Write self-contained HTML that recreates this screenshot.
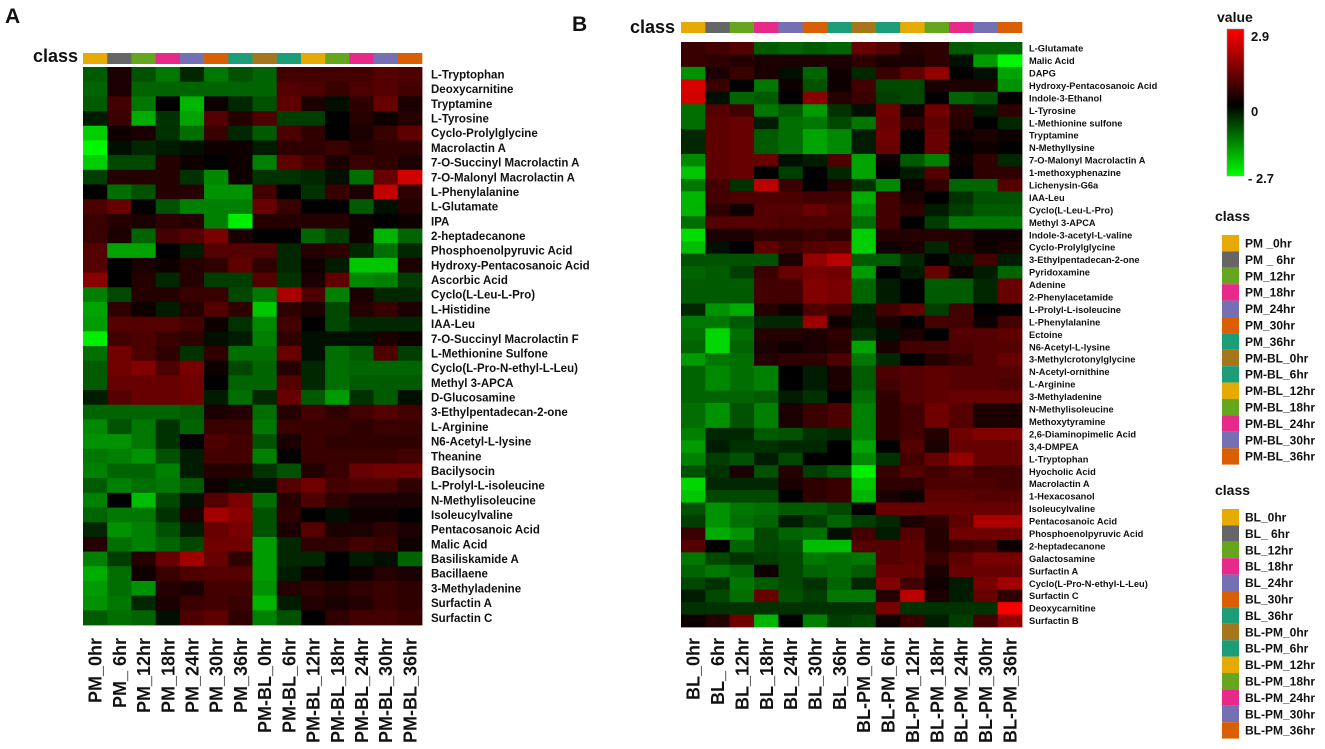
<!DOCTYPE html>
<html><head><meta charset="utf-8"><style>
html,body{margin:0;padding:0;background:#fff;width:1325px;height:749px;overflow:hidden}
svg text{font-family:"Liberation Sans",Arial,sans-serif;font-weight:bold;fill:#111}
</style></head><body>
<svg id="fig" width="1325" height="749" viewBox="0 0 1325 749" xmlns="http://www.w3.org/2000/svg">
<defs><linearGradient id="cb" x1="0" y1="0" x2="0" y2="1">
<stop offset="0" stop-color="#ff0000"/><stop offset="0.518" stop-color="#000000"/><stop offset="1" stop-color="#00ff00"/></linearGradient></defs>
<text x="5" y="23" font-size="21">A</text>
<text x="33" y="62" font-size="18">class</text>
<text x="572" y="31" font-size="21">B</text>
<text x="630" y="33" font-size="18">class</text>
<g id="ga"></g><g id="gb"></g><g id="gl"></g>
</svg>
<script>
const classColors=["#E6AB02","#666666","#66A61E","#E7298A","#7570B3","#D95F02","#1B9E77","#A6761D","#1B9E77","#E6AB02","#66A61E","#E7298A","#7570B3","#D95F02"];
const colsA=["PM_0hr","PM_ 6hr","PM_12hr","PM_18hr","PM_24hr","PM_30hr","PM_36hr","PM-BL_0hr","PM-BL_6hr","PM-BL_12hr","PM-BL_18hr","PM-BL_24hr","PM-BL_30hr","PM-BL_36hr"];
const colsB=["BL_0hr","BL_ 6hr","BL_12hr","BL_18hr","BL_24hr","BL_30hr","BL_36hr","BL-PM_0hr","BL-PM_6hr","BL-PM_12hr","BL-PM_18hr","BL-PM_24hr","BL-PM_30hr","BL-PM_36hr"];
const legendA=["PM _0hr","PM _ 6hr","PM_12hr","PM_18hr","PM_24hr","PM_30hr","PM_36hr","PM-BL_0hr","PM-BL_6hr","PM-BL_12hr","PM-BL_18hr","PM-BL_24hr","PM-BL_30hr","PM-BL_36hr"];
const legendB=["BL_0hr","BL_ 6hr","BL_12hr","BL_18hr","BL_24hr","BL_30hr","BL_36hr","BL-PM_0hr","BL-PM_6hr","BL-PM_12hr","BL-PM_18hr","BL-PM_24hr","BL-PM_30hr","BL-PM_36hr"];
const rowsA=["L-Tryptophan","Deoxycarnitine","Tryptamine","L-Tyrosine","Cyclo-Prolylglycine","Macrolactin A","7-O-Succinyl Macrolactin A","7-O-Malonyl Macrolactin A","L-Phenylalanine","L-Glutamate","IPA","2-heptadecanone","Phosphoenolpyruvic Acid","Hydroxy-Pentacosanoic Acid","Ascorbic Acid","Cyclo(L-Leu-L-Pro)","L-Histidine","IAA-Leu","7-O-Succinyl Macrolactin F","L-Methionine Sulfone","Cyclo(L-Pro-N-ethyl-L-Leu)","Methyl 3-APCA","D-Glucosamine","3-Ethylpentadecan-2-one","L-Arginine","N6-Acetyl-L-lysine","Theanine","Bacilysocin","L-Prolyl-L-isoleucine","N-Methylisoleucine","Isoleucylvaline","Pentacosanoic Acid","Malic Acid","Basiliskamide A","Bacillaene","3-Methyladenine","Surfactin A","Surfactin C"];
const valuesA=[
[-0.8,0.2,-0.7,-1.1,-0.3,-1.1,-0.7,-0.9,0.6,0.6,0.6,0.6,0.8,0.7],
[-0.9,0.2,-0.9,-0.9,-0.9,-0.9,-0.9,-0.9,0.8,0.7,0.5,0.7,0.8,0.6],
[-0.8,0.6,-1.1,0,-1.8,0.1,-0.3,-0.7,0.9,0.2,-0.1,0.4,1.0,0.2],
[-0.2,0.5,-1.7,-0.4,-1.6,0.8,0.3,0.7,-0.5,-0.5,0,0.3,0.1,0.3],
[-2.1,0.1,0.2,-0.4,-1.0,0.5,-0.3,-0.8,0.7,0.4,0,0.2,0.5,0.9],
[-2.6,-0.1,-0.3,-0.2,-0.1,0.1,0.1,-0.2,0.4,0.4,0.5,0.3,0.4,0.4],
[-2.1,-0.6,-0.6,0.3,0.1,0,0.1,-1.2,0.9,0.6,0.2,0.5,0.4,0.2],
[-0.5,0.3,0.3,0.3,-0.4,-1.3,0.1,-0.4,-0.4,-0.3,-0.1,-1.0,1.0,2.3],
[0,-1.0,-0.7,0.3,0.3,-1.4,-1.4,0.6,0,-0.4,0.5,0.2,2.1,0.4],
[0.7,1.0,0,-0.7,-1.2,-1.2,-1.2,1.0,0.5,0,0,-0.8,-0.1,0.3],
[0.5,0.3,0.2,0.4,0.3,-1.2,-2.5,0.3,0.3,0.3,0.3,0.1,0,0.1],
[0.5,0.2,-0.9,0.6,0.8,1.2,0.2,0,0,-0.9,-0.5,0.1,-1.8,-0.9],
[0.8,-1.6,-1.6,0,-0.2,0.8,0.8,0.8,-0.3,0.3,0.4,-0.3,-1.0,-0.3],
[0.8,0,0.2,0.1,0.3,0.4,0.9,0.4,-0.3,0.1,-0.2,-2.0,-2.0,0.2],
[1.4,0,0.3,-0.3,0.3,-0.5,-0.5,0.8,-0.4,0.2,0.9,-1.3,-1.2,-0.5],
[-1.2,-0.6,0.3,0.3,0.5,0.5,-0.6,-1.1,1.8,0.7,-1.2,0.2,-0.3,-0.3],
[-1.6,0.4,0.1,-0.2,0.3,0.8,0.4,-2.0,0.4,0.2,-0.6,0.3,0.5,0.2],
[-1.5,0.8,0.8,0.8,0.6,0.1,-0.4,-1.3,0.6,0,-0.6,-0.3,-0.3,-0.3],
[-2.5,0.6,0.7,0.5,0.4,-0.1,-0.2,-1.2,0.4,-0.1,-0.1,-0.1,0.2,0.1],
[-1.0,1.1,0.7,0.4,-0.4,0.4,-1.0,-1.0,1.0,-0.1,-1.0,-0.8,0.7,-0.5],
[-0.8,1.1,1.3,0.7,1.2,0.1,-0.6,-0.9,0.3,-0.3,-1.0,-0.9,-0.9,-0.9],
[-0.8,1.0,1.0,1.0,1.1,0,-0.9,-0.9,0.8,-0.3,-1.0,-0.8,-0.8,-0.8],
[-0.2,0.8,1.0,1.0,1.1,-0.2,-1.0,-0.3,1.0,-0.8,-1.5,-0.4,-0.8,-0.1],
[-0.9,-0.9,-0.9,-0.9,-0.8,0.2,0.3,-1.0,0.3,0.6,0.4,0.6,0.8,0.6],
[-1.3,-0.7,-1.1,-0.4,-0.9,0.5,0.5,-1.1,0.5,0.5,0.5,0.4,0.5,0.5],
[-1.4,-1.4,-1.1,-0.4,0,0.7,0.6,-0.7,0.2,0.5,0.4,0.4,0.4,0.4],
[-1.1,-1.2,-1.4,-0.7,-0.2,0.6,0.6,-1.2,0,0.5,0.5,0.5,0.5,0.6],
[-1.2,-0.9,-0.9,-1.2,-0.2,0.3,0.3,-0.4,-0.7,0.3,0.5,1.0,1.1,1.1],
[-0.8,-1.2,-1.0,-1.1,-0.8,0.1,-0.1,-0.1,0.8,1.1,0.6,0.7,0.7,0.4],
[-1.2,0,-1.9,-0.6,-0.1,0.8,1.2,-1.0,0.3,0.7,0.4,0.2,0.2,0.2],
[-0.9,-1.1,-1.1,-0.4,0.2,1.7,1.4,-0.7,0.4,0,-0.1,0.1,0.1,0],
[-0.3,-1.4,-1.2,-0.7,-0.2,1.0,1.2,-0.7,0.2,0.8,0.2,0.2,0.4,0.2],
[0.3,-1.0,-1.2,-0.9,-0.6,1.1,1.1,-1.5,-0.3,0.4,0.4,0.6,0.5,0.1],
[-1.2,-0.5,0.3,1.0,1.7,1.0,0.4,-1.5,-0.3,-0.3,0,-0.2,-0.1,-0.9],
[-1.7,-1.0,0.1,0.5,0.7,0.8,0.8,-1.5,-0.2,0.1,0,0.1,0.3,0.2],
[-1.5,-1.0,-1.4,0.3,0.2,0.6,0.6,-1.4,0.3,0.4,0.3,0.4,0.5,0.4],
[-1.4,-1.1,-0.3,0.2,0.5,0.6,0.5,-1.8,-0.2,0.3,0.2,0.3,0.5,0.4],
[-0.8,-1.0,-0.9,-0.1,0.7,0.9,0.4,-1.2,-0.7,0,0.4,0.6,0.6,0.5]];
const rowsB=["L-Glutamate","Malic Acid","DAPG","Hydroxy-Pentacosanoic Acid","Indole-3-Ethanol","L-Tyrosine","L-Methionine sulfone","Tryptamine","N-Methyllysine","7-O-Malonyl Macrolactin A","1-methoxyphenazine","Lichenysin-G6a","IAA-Leu","Cyclo(L-Leu-L-Pro)","Methyl 3-APCA","Indole-3-acetyl-L-valine","Cyclo-Prolylglycine","3-Ethylpentadecan-2-one","Pyridoxamine","Adenine","2-Phenylacetamide","L-Prolyl-L-isoleucine","L-Phenylalanine","Ectoine","N6-Acetyl-L-lysine","3-Methylcrotonylglycine","N-Acetyl-ornithine","L-Arginine","3-Methyladenine","N-Methylisoleucine","Methoxytyramine","2,6-Diaminopimelic Acid","3,4-DMPEA","L-Tryptophan","Hyocholic Acid","Macrolactin A","1-Hexacosanol","Isoleucylvaline","Pentacosanoic Acid","Phosphoenolpyruvic Acid","2-heptadecanone","Galactosamine","Surfactin A","Cyclo(L-Pro-N-ethyl-L-Leu)","Surfactin C","Deoxycarnitine","Surfactin B"];
const valuesB=[
[0.5,0.6,0.8,-0.8,-0.9,-0.8,-0.9,1.0,0.8,0.3,0.4,-0.8,-0.9,-0.9],
[0.5,0.4,0.3,0.2,0.2,0.2,0.2,0.4,0.2,0.2,0.4,-0.1,-1.5,-2.6],
[-1.4,0.2,0.5,0.2,-0.1,-0.9,0.1,-0.3,0.5,0.9,1.5,0,-0.1,-1.6],
[2.4,0.5,0,-1.1,0.1,-0.7,0.1,0.6,-0.6,-0.6,0.2,0.2,0.2,-1.4],
[2.3,-0.1,-0.9,-0.8,0,1.4,0.3,0.5,-0.5,-0.6,0,-0.9,-0.7,0],
[-1.0,0.8,0.6,-1.1,-0.8,-1.5,-0.4,-0.1,1.1,0.1,1.1,0.4,-0.2,0.4],
[-1.0,0.9,1.0,-0.2,-1.0,-1.1,-0.6,-1.1,1.0,0.4,0.9,0.3,0,-0.3],
[-0.3,0.9,1.0,-0.8,-1.0,-1.6,-1.3,-0.2,1.1,0,1.0,0.1,0.2,0.1],
[-0.3,0.9,1.0,-0.8,-1.0,-1.6,-1.3,-0.2,1.0,0,1.0,0,0.1,0],
[-1.3,0.9,1.0,1.0,-0.1,-0.2,0.7,-1.6,0.1,-0.8,-1.2,0.1,0.4,-0.3],
[-2.0,0.9,1.0,0,-0.5,0,-0.3,-1.6,0,-0.2,0.8,0,0.4,0.4],
[-1.1,0.6,-0.4,2.0,0.5,0,0.3,-0.4,-1.3,0.1,0.4,-0.9,-0.9,0.8],
[-1.8,0.6,0.7,0.7,0.7,0.6,0.6,-1.7,0.6,0.2,0,-0.4,-0.7,-0.7],
[-1.8,0.4,0.1,0.8,0.8,1.0,0.8,-1.4,0.6,0.4,-0.2,-0.5,-0.8,-0.8],
[-1.0,0.8,0.8,0.8,0.7,0.7,0.7,-1.0,0.6,0,-0.5,-1.1,-1.1,-1.1],
[-2.3,0.2,0.2,0.4,0.4,0.5,0.4,-2.1,0.3,0.3,0.3,0.3,0.1,0.1],
[-1.9,-0.1,0,0.9,0.6,0.8,0.9,-2.1,0.1,0.2,-0.3,0.3,0.1,0.2],
[-0.7,-0.7,-0.7,-0.7,0.2,1.5,2.0,-0.8,-0.8,-0.3,0,-0.2,0.6,-0.2],
[-0.9,-0.8,-0.5,0.5,1.0,1.2,1.1,-1.5,0,-0.2,1.0,0.1,-0.2,-0.9],
[-0.8,-0.8,-0.8,0.6,0.6,1.3,1.2,-0.9,-0.2,0,-0.8,-0.8,-0.3,1.0],
[-0.8,-0.8,-0.8,0.6,0.6,1.3,1.2,-0.9,-0.2,0,-0.8,-0.8,-0.3,1.0],
[-0.3,-1.4,-1.7,0.3,0.1,0.7,0.6,-0.2,0.6,0.9,-0.5,0.6,0,0],
[-1.1,-1.1,-0.8,-0.3,-0.3,1.6,0.1,-0.2,0.2,0,0.6,0.6,0.1,0.6],
[-1.0,-2.2,-1.0,0.3,0.3,0.2,0.4,-0.4,-0.1,0.2,0,0.8,0.8,0.9],
[-0.9,-2.2,-0.9,0.2,0.1,0.2,0.3,-1.6,0.2,0.6,0.6,0.7,0.8,0.8],
[-1.5,-1.1,-1.0,0.3,0.4,0.4,0.7,-1.1,-0.3,0,0.3,0.5,0.8,1.0],
[-0.9,-1.3,-1.0,-1.2,0,-0.2,0.2,-0.8,0.7,0.8,0.9,0.8,0.8,0.8],
[-0.9,-1.3,-1.0,-1.2,0,-0.2,0.2,-0.8,0.6,0.8,0.9,0.8,0.8,0.7],
[-0.9,-0.9,-0.9,-0.8,-0.2,-0.4,0,-1.0,0.4,0.8,0.9,1.0,1.0,1.0],
[-1.0,-1.4,-0.7,-1.2,0.2,0.5,0.7,-1.2,0.4,0.6,1.1,0.8,0.2,0.2],
[-1.0,-1.4,-0.7,-1.2,0.2,0.5,0.7,-1.2,0.4,0.6,1.1,0.8,0.2,0.2],
[-1.2,-0.3,-0.3,-0.8,-0.7,-0.4,-0.3,-1.2,0.4,0.6,0.3,1.1,1.3,1.3],
[-1.5,-0.2,-0.4,-0.4,-0.3,-0.3,0,-1.6,0,0.8,0.2,1.0,1.0,1.0],
[-1.2,-0.5,-0.7,-0.2,-0.6,0,0,-1.3,-0.4,0.6,1.0,1.5,1.0,1.0],
[-0.7,-0.4,0.2,-0.7,0.3,-0.5,-0.8,-2.5,0.5,0.8,0.6,0.8,0.6,0.6],
[-2.2,-0.3,-0.3,-0.3,0.2,0.4,0.5,-2.0,0.4,0.4,0.7,0.7,0.7,0.6],
[-2.0,-0.6,-0.6,-0.6,0,0.4,0.5,-1.8,0.2,0.1,0.9,0.9,0.8,0.8],
[-0.7,-1.4,-1.1,-1.0,-0.8,-0.8,-0.6,0,1.0,1.0,1.0,1.0,1.0,1.0],
[-0.5,-1.4,-1.0,-0.9,-0.2,-0.5,-0.9,-0.5,-0.3,0.2,0.4,0.9,1.8,1.8],
[0.5,-1.7,-1.4,-0.6,-0.9,-1.0,-0.1,0.6,-0.2,0.8,0.3,1.1,1.1,1.1],
[0.8,0,-0.9,-0.6,-0.7,-1.9,-1.9,0.8,0.8,0.9,0.3,0.5,0.6,0.1],
[-1.1,-0.6,-0.4,-0.5,-0.6,-1.1,-1.0,-1.1,0.8,0.9,0.5,0.9,1.2,1.2],
[-0.9,-1.1,-0.9,0.1,-0.6,-0.9,-1.0,-0.8,1.0,1.0,0.2,1.0,1.0,1.0],
[-0.6,-0.4,-1.1,-0.8,-0.6,-0.4,-0.9,-0.3,1.3,0.6,0.1,-0.2,1.2,1.7],
[-0.2,-0.6,-1.0,1.0,-0.7,-0.5,-1.1,-1.1,0.3,2.0,0.2,-0.2,1.0,0.4],
[-0.4,-0.4,-0.4,-0.4,-0.4,-0.4,-0.4,-0.4,1.2,-0.4,-0.4,-0.4,-0.4,2.8],
[0.1,0.3,1.1,-1.8,0,-1.2,-0.5,-0.6,0.1,0.5,-0.2,-0.5,0.6,1.5]];
const vMax=2.9, vMin=-2.7;

const NS="http://www.w3.org/2000/svg";
function mk(tag,attrs,parent){const e=document.createElementNS(NS,tag);for(const k in attrs)e.setAttribute(k,attrs[k]);parent.appendChild(e);return e;}
function color(v){
  if(v>=0){const t=Math.min(1,v/vMax);return "rgb("+Math.round(255*Math.pow(t,0.85))+",0,0)";}
  const t=Math.min(1,v/vMin);return "rgb(0,"+Math.round(255*Math.pow(t,0.85))+",0)";
}
function drawPanel(g,cfg){
  const cw=cfg.w/cfg.cols.length, rh=cfg.h/cfg.rows.length;
  const xs=c=>cfg.x+c*cw, ys=r=>cfg.y+r*rh;
  cfg.cols.forEach((c,i)=>{
    const s=mk("rect",{x:xs(i),y:cfg.barY,width:cw+0.3,height:cfg.barH,fill:classColors[i]},g);
    
    
    const t=mk("text",{x:0,y:0,"font-size":18,"text-anchor":"end",transform:"translate("+(xs(i)+cw/2+6.5)+","+cfg.labY+") rotate(-90)"},g);
    t.textContent=c;
    
    
  });
  cfg.vals.forEach((row,r)=>{
    row.forEach((v,c)=>{
      const cell=mk("rect",{x:xs(c),y:ys(r),width:cw+0.4,height:rh+0.4,fill:color(v)},g);
      
      
    });
    const t=mk("text",{x:cfg.x+cfg.w+cfg.lg,y:ys(r)+rh/2+cfg.fs*0.36,"font-size":cfg.fs},g);
    t.textContent=cfg.rows[r];
    
    
  });
}
drawPanel(document.getElementById('ga'),{x:83,y:67,w:339,h:558,barY:53,barH:11,labY:638,cols:colsA,rows:rowsA,vals:valuesA,fs:11.5,lg:9});
drawPanel(document.getElementById('gb'),{x:681,y:42,w:341,h:585,barY:22,barH:11,labY:638,cols:colsB,rows:rowsB,vals:valuesB,fs:9.3,lg:7});

const gl=document.getElementById('gl');
let t=mk("text",{x:1217,y:22,"font-size":14},gl);t.textContent="value";


const cbar=mk("rect",{x:1227,y:29,width:17,height:147,fill:"url(#cb)",stroke:"#999","stroke-width":0.6},gl);


const cbTicks=["2.9","0","- 2.7"];
const cbTickY=[41,116,183];
cbTicks.forEach((s,i)=>{const e=mk("text",{x:i==2?1248:1251,y:cbTickY[i],"font-size":13},gl);e.textContent=s;

});
function legend(y0,title,labels){
  const tt=mk("text",{x:1215,y:y0,"font-size":14},gl);tt.textContent=title;
  
  
  labels.forEach((l,i)=>{
    const sw=mk("rect",{x:1222,y:y0+14+i*16.4,width:17,height:16.4,fill:classColors[i]},gl);
    
    
    const e=mk("text",{x:1245,y:y0+14+i*16.4+12.5,"font-size":12},gl);e.textContent=l;
    
    
  });
}
legend(221,"class",legendA);
legend(495,"class",legendB);
</script>
</body></html>
